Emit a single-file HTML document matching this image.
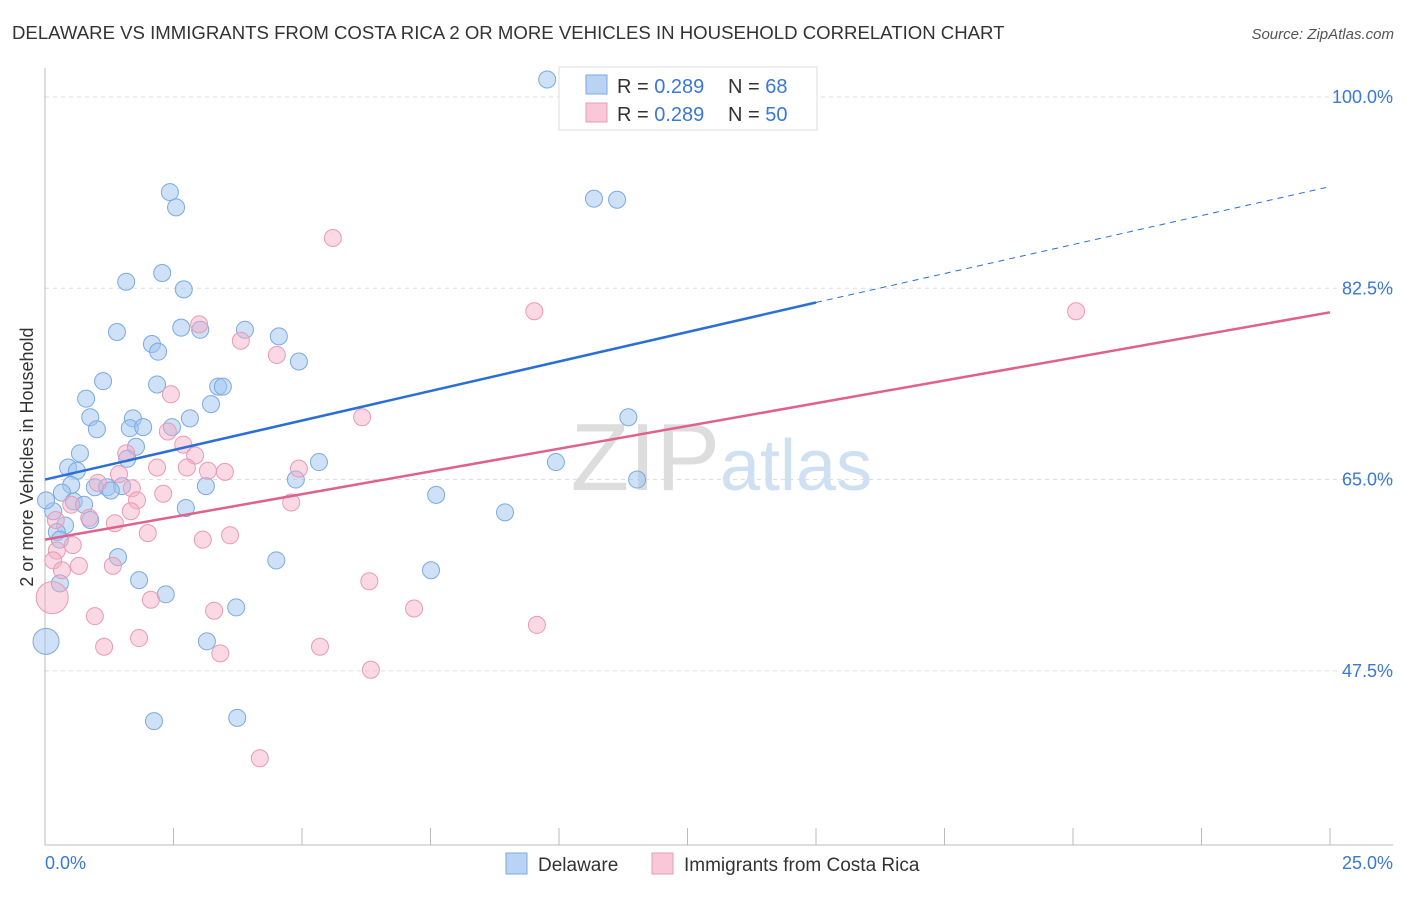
<!DOCTYPE html>
<html><head><meta charset="utf-8"><style>
body{margin:0;background:#fff;font-family:"Liberation Sans",sans-serif;}
svg text{font-family:"Liberation Sans",sans-serif;}
</style></head><body>
<svg id="chart" width="1406" height="892" xmlns="http://www.w3.org/2000/svg">
<text x="12" y="39" font-size="18.6" fill="#333">DELAWARE VS IMMIGRANTS FROM COSTA RICA 2 OR MORE VEHICLES IN HOUSEHOLD CORRELATION CHART</text>
<text x="1394" y="39" font-size="15" fill="#555" font-style="italic" text-anchor="end">Source: ZipAtlas.com</text>
<text x="0" y="0" transform="translate(33,457) rotate(-90)" font-size="18" fill="#333" text-anchor="middle">2 or more Vehicles in Household</text>
<g id="grid"></g>
<text x="720" y="490" font-size="96" fill="#ddd" text-anchor="end" font-family="Liberation Serif">ZIP</text>
<text x="720" y="490" font-size="72" fill="#cfe0f3">atlas</text>
<g id="pts"></g>
<g id="lines"></g>
<g>
<rect x="559" y="67" width="258" height="63" fill="#fff" stroke="#ddd"/>
<rect x="586" y="75" width="21" height="19" fill="#b9d3f5" stroke="#7aaae0"/>
<rect x="586" y="103" width="21" height="19" fill="#f9c8d8" stroke="#e99ab5"/>
<text x="617" y="93" font-size="20" fill="#333">R = <tspan fill="#3a78d4">0.289</tspan></text>
<text x="728" y="93" font-size="20" fill="#333">N =  <tspan fill="#3a78d4">68</tspan></text>
<text x="617" y="121" font-size="20" fill="#333">R = <tspan fill="#3a78d4">0.289</tspan></text>
<text x="728" y="121" font-size="20" fill="#333">N =  <tspan fill="#3a78d4">50</tspan></text>
</g>
<g>
<rect x="506" y="853" width="21" height="21" fill="#b9d3f5" stroke="#7aaae0"/>
<text x="538" y="871" font-size="19" fill="#333">Delaware</text>
<rect x="652" y="853" width="21" height="21" fill="#f9c8d8" stroke="#e99ab5"/>
<text x="684" y="871" font-size="19" fill="#333">Immigrants from Costa Rica</text>
</g>
</svg>
<script>
const yTicks=[100,82.5,65,47.5];
const yTickLabels=["100.0%","82.5%","65.0%","47.5%"];
const xTickLabels=["0.0%","25.0%"];
const blueX=[9.77,2.43,2.55,10.68,11.13,2.28,1.58,2.70,1.40,2.65,3.02,3.89,4.55,2.08,2.20,4.94,1.13,2.18,3.37,3.46,0.80,3.23,0.88,1.71,2.82,11.35,1.01,1.65,1.91,2.47,1.77,0.68,1.60,0.45,0.62,9.94,5.33,4.88,11.52,0.51,0.97,1.21,1.50,3.13,0.33,1.28,7.61,0.56,0.76,2.74,8.95,0.16,0.88,0.39,0.23,1.42,4.50,7.51,1.83,0.29,2.35,3.72,3.15,0.02,2.12,3.74,0.02,0.29];
const blueY=[101.6,91.3,89.9,90.7,90.6,83.9,83.1,82.4,78.5,78.9,78.7,78.7,78.1,77.4,76.7,75.8,74.0,73.7,73.5,73.5,72.4,71.9,70.7,70.6,70.6,70.7,69.6,69.7,69.8,69.8,68.0,67.4,66.9,66.1,65.8,66.6,66.6,65.0,65.0,64.5,64.3,64.3,64.4,64.4,63.8,64.0,63.6,63.0,62.7,62.4,62.0,62.1,61.3,60.8,60.2,57.9,57.6,56.7,55.8,55.5,54.5,53.3,50.2,50.2,42.9,43.2,63.1,59.5];
const blueBig=[63];
const pinkX=[5.60,9.52,20.06,3.00,3.81,4.51,2.45,6.17,2.39,2.69,1.58,2.92,2.76,2.18,3.17,3.50,4.94,1.44,1.03,1.69,2.30,4.79,1.79,0.51,1.67,0.86,1.36,2.00,3.60,3.07,0.54,0.23,0.16,0.66,1.32,0.33,0.14,2.06,6.31,3.29,7.18,0.97,9.57,1.83,1.15,5.35,3.41,6.34,4.18,0.21];
const pinkY=[87.1,80.4,80.4,79.2,77.7,76.4,72.8,70.7,69.4,68.2,67.4,67.2,66.1,66.1,65.8,65.7,66.0,65.5,64.7,64.2,63.7,62.9,63.1,62.7,62.1,61.5,61.0,60.1,59.9,59.5,59.0,58.5,57.6,57.1,57.1,56.7,54.2,54.0,55.7,53.0,53.2,52.5,51.7,50.5,49.7,49.7,49.1,47.6,39.5,61.3];
const pinkBig=[36];
const blueTrend=[65.0,81.2,91.8]; // at x=0, 15, 25
const pinkTrend=[59.5,80.3]; // at x=0, 25
const NS="http://www.w3.org/2000/svg";
const xs=v=>45+v*51.4;
const ys=v=>97+(100-v)*10.93;
function mk(tag,attrs,parent){const e=document.createElementNS(NS,tag);for(const k in attrs)e.setAttribute(k,attrs[k]);parent.appendChild(e);return e;}
const grid=document.getElementById('grid');
yTicks.forEach((t,i)=>{
 const l=mk('line',{x1:45,x2:1393,y1:ys(t),y2:ys(t),stroke:'#ddd','stroke-dasharray':'4,4'},grid);
 
 
 const tx=mk('text',{x:1393,y:ys(t)+6,'font-size':18,fill:'#3a78d4','text-anchor':'end'},grid);
 tx.textContent=yTickLabels[i];
 
 
});
const ax=mk('line',{x1:45,x2:45,y1:68,y2:845,stroke:'#bbb'},grid);


const bx=mk('line',{x1:45,x2:1393,y1:845,y2:845,stroke:'#bbb'},grid);


for(let i=0;i<=10;i++){const t=mk('line',{x1:xs(i*2.5),x2:xs(i*2.5),y1:828,y2:845,stroke:'#bbb'},grid);
 
 }
[[0,'start',45],[25,'end',1393]].forEach((a,i)=>{const t=mk('text',{x:a[2],y:869,'font-size':18,fill:'#3a78d4','text-anchor':a[1]},grid);t.textContent=xTickLabels[i];
 
 });
const pts=document.getElementById('pts');
blueX.forEach((x,i)=>{const c=mk('circle',{cx:xs(x),cy:ys(blueY[i]),r:blueBig.includes(i)?13:8.5,fill:'rgba(160,196,240,0.5)',stroke:'#7aaae0','stroke-width':1},pts);
 
 });
pinkX.forEach((x,i)=>{const c=mk('circle',{cx:xs(x),cy:ys(pinkY[i]),r:pinkBig.includes(i)?16:8.5,fill:'rgba(245,170,195,0.45)',stroke:'#e99ab5','stroke-width':1},pts);
 
 });
const lines=document.getElementById('lines');
const b1=mk('line',{x1:xs(0),y1:ys(blueTrend[0]),x2:xs(15),y2:ys(blueTrend[1]),stroke:'#2a6fd6','stroke-width':2.5},lines);


const b2=mk('line',{x1:xs(15),y1:ys(blueTrend[1]),x2:xs(25),y2:ys(blueTrend[2]),stroke:'#2a6fd6','stroke-width':1,'stroke-dasharray':'6,5'},lines);


const p1=mk('line',{x1:xs(0),y1:ys(pinkTrend[0]),x2:xs(25),y2:ys(pinkTrend[1]),stroke:'#e0608e','stroke-width':2.5},lines);


</script>
</body></html>
